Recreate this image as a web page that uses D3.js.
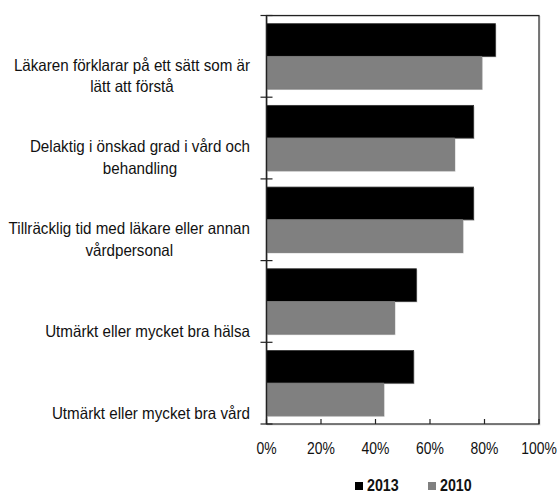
<!DOCTYPE html>
<html><head><meta charset="utf-8">
<script src="https://cdn.jsdelivr.net/npm/d3@7"></script>
<style>body{margin:0;background:#fff}svg{display:block}text{font-family:"Liberation Sans",Arial,sans-serif;fill:#111}</style>
</head><body><svg id="c" width="560" height="493"></svg>
<script>
const categories = [
  ["Läkaren förklarar på ett sätt som är", "lätt att förstå"],
  ["Delaktig i önskad grad i vård och", "behandling"],
  ["Tillräcklig tid med läkare eller annan", "vårdpersonal"],
  ["Utmärkt eller mycket bra hälsa"],
  ["Utmärkt eller mycket bra vård"]
];
const seriesNames = ["2013", "2010"];
const values2013 = [84, 76, 76, 55, 54];
const values2010 = [79, 69, 72, 47, 43];
const xTicks = [0, 20, 40, 60, 80, 100];
const colors = ["#000000", "#808080"];

const svg = d3.select("#c");
const L = 266.5, R = 539, T = 15.5, B = 424;
const x = d3.scaleLinear().domain([0, 100]).range([L, R]);
const y = d3.scaleBand().domain(d3.range(categories.length)).range([T, B]).paddingInner(0.2).paddingOuter(0.1);
const yb = d3.scaleBand().domain(d3.range(categories.length)).range([T, B]).padding(0);
const ys = d3.scaleBand().domain(seriesNames).range([0, y.bandwidth()]);
const series = [values2013, values2010];

function ctext(parent, cx, cy, str, size, sx, anchor, weight) {
  const g = parent.append("g").attr("transform", `translate(${cx},${cy}) scale(${sx},1)`);
  return g.append("text").attr("x", 0).attr("y", 0).attr("text-anchor", anchor || "middle")
    .style("font-size", size + "px").style("font-weight", weight || "normal").text(str);
}

// frame
svg.append("rect").attr("x", L + 1).attr("y", T + 1).attr("width", R - L).attr("height", B - T)
  .attr("fill", "none").attr("stroke", "#ddd").attr("stroke-width", 1);
svg.append("rect").attr("x", L).attr("y", T).attr("width", R - L).attr("height", B - T)
  .attr("fill", "none").attr("stroke", "#222").attr("stroke-width", 1.2);

// bars
seriesNames.forEach((s, si) => {
  const g = svg.append("g");
  series[si].forEach((v, i) => {
    const yy = y(i) + ys(s);
    g.append("rect").attr("x", x(0) + 1).attr("y", yy + 1).attr("width", x(v) - x(0)).attr("height", ys.bandwidth())
      .attr("fill", "#d0d0d0");
    g.append("rect").attr("x", x(0)).attr("y", yy).attr("width", x(v) - x(0)).attr("height", ys.bandwidth())
      .attr("fill", colors[si]).attr("stroke", si === 0 ? "#333" : "#7a7a7a").attr("stroke-width", 0.8);
  });
});

// left axis line + crossing ticks
svg.append("line").attr("x1", L).attr("x2", L).attr("y1", T).attr("y2", B).attr("stroke", "#222").attr("stroke-width", 1.4);
const bounds = d3.range(categories.length + 1).map(i => i < categories.length ? yb(i) : B);
bounds.forEach(b => {
  svg.append("line").attr("x1", L - 6).attr("x2", L + 6).attr("y1", b).attr("y2", b).attr("stroke", "#222").attr("stroke-width", 1.2);
});

// x axis: inward ticks + labels
xTicks.forEach(t => {
  svg.append("line").attr("x1", x(t)).attr("x2", x(t)).attr("y1", B - 5).attr("y2", B).attr("stroke", "#222").attr("stroke-width", 1.2);
  ctext(svg, x(t), 454, t + "%", 17, 0.82);
});

// category labels: block right-aligned at 250, lines centred inside block
const labelRight = 250, LS = 16.5, LSX = 0.92;
categories.forEach((lines, i) => {
  const lastBase = yb(i) + yb.bandwidth() - 5;
  const widths = lines.map(ln => {
    const t = ctext(svg, 0, 0, ln, LS, LSX);
    const w = t.node().getComputedTextLength() * LSX;
    t.node().parentNode.remove();
    return w;
  });
  const cx = labelRight - d3.max(widths) / 2;
  lines.forEach((ln, k) => {
    ctext(svg, cx, lastBase - (lines.length - 1 - k) * 21.5, ln, LS, LSX);
  });
});

// legend
const legX = [355, 428];
seriesNames.forEach((s, si) => {
  svg.append("rect").attr("x", legX[si]).attr("y", 482).attr("width", 8).attr("height", 8).attr("fill", colors[si]);
  ctext(svg, legX[si] + 12, 491, s, 17, 0.84, "start", "bold");
});
</script></body></html>
